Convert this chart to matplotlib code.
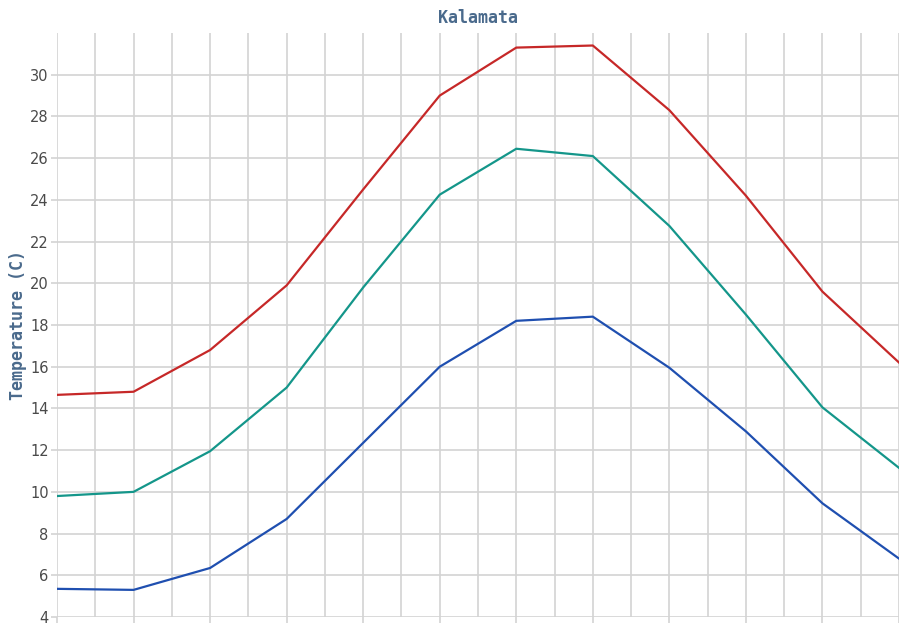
import matplotlib
matplotlib.use("Agg")
import matplotlib.pyplot as plt
import numpy as np

months = ["Jan", "Feb", "Mar", "Apr", "May", "Jun", "Jul", "Aug", "Sep", "Oct", "Nov", "Dec"]
t_max = [14.65, 14.8, 16.8, 19.9, 24.5, 29.0, 31.3, 31.4, 28.3, 24.2, 19.6, 16.2]
t_mean = [9.8, 10.0, 11.95, 15.0, 19.8, 24.25, 26.45, 26.1, 22.75, 18.5, 14.05, 11.15]
t_min = [5.35, 5.3, 6.35, 8.7, 12.35, 16.0, 18.2, 18.4, 15.95, 12.9, 9.45, 6.8]

colors = {"max": "#c62828", "mean": "#14968a", "min": "#1f4fb0"}

fig = plt.figure(figsize=(8.99, 6.25), dpi=100)
ax = fig.add_axes([57/899, 8/625, 842/899, 584/625])

x = np.arange(len(months))
ax.plot(x, t_max, color=colors["max"], lw=1.6, zorder=3)
ax.plot(x, t_mean, color=colors["mean"], lw=1.6, zorder=3)
ax.plot(x, t_min, color=colors["min"], lw=1.6, zorder=3)

ax.set_xlim(0, 11)
ax.set_ylim(4, 32)
ax.set_xticks(x)
ax.set_xticklabels(months)
ax.set_xticks(np.arange(0.5, 11, 1), minor=True)
ax.set_yticks(np.arange(4, 31, 2))
ax.grid(True, which="both", color="#d3d3d3", lw=1.2, zorder=0)
for s in ax.spines.values():
    s.set_visible(False)
ax.tick_params(axis="both", which="major", colors="#d3d3d3", labelcolor="#4a4a4a",
               labelsize=10.5, length=4, width=1.2)
ax.tick_params(axis="x", which="minor", length=0)
ax.tick_params(axis="y", pad=2)

ax.set_title("Kalamata", fontfamily="DejaVu Sans Mono", fontweight="bold",
             fontsize=12, color="#4a6a8c", pad=7)
ax.set_ylabel("Temperature (C)", fontfamily="DejaVu Sans Mono", fontweight="bold",
              fontsize=12, color="#4a6a8c", labelpad=2)

fig.savefig("out.png", dpi=100)
